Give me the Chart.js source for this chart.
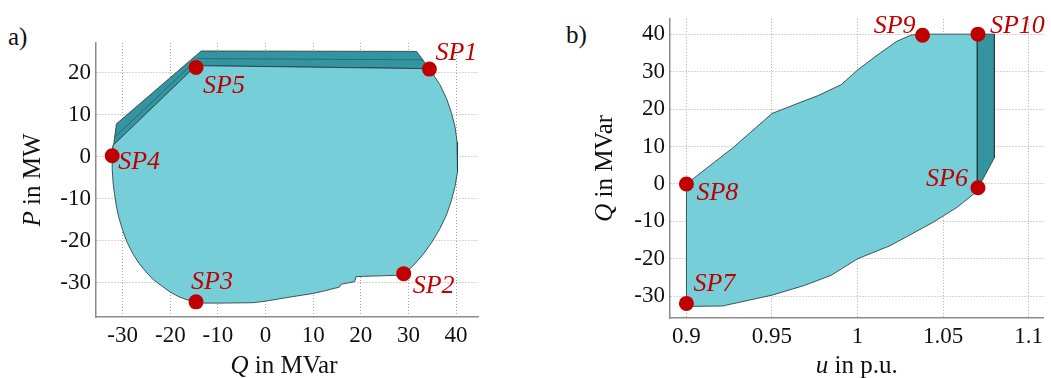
<!DOCTYPE html>
<html>
<head>
<meta charset="utf-8">
<script src="https://cdn.jsdelivr.net/npm/chart.js@4"></script>
<style>
  body { margin: 0; background: #fff; width: 1051px; height: 378px; overflow: hidden; position: relative; }
  .box { position: absolute; top: 0; height: 378px; }
  .tag { position: absolute; font-family: "Liberation Serif", serif; font-size: 25px; color: #111; }
</style>
</head>
<body>
<div class="tag" style="left:8px; top:23px;">a)</div>
<div class="tag" style="left:566px; top:21px;">b)</div>
<div class="box" style="left:0; width:490px;"><canvas id="leftchart"></canvas></div>
<div class="box" style="left:560px; width:491px;"><canvas id="rightchart"></canvas></div>
<script>
// ---- a) P-Q area ----
const leftAreaQ = [-32.2, -32.0, -14.8, -13.5, 34.4, 36.6, 38.0, 39.0, 39.8, 40.2, 40.4, 40.2, 39.8, 39.0, 38.0, 36.6, 35.0,
    33.1, 30.9, 29.1, 27.5, 19.0, 18.7, 15.9, 15.5, 12.0, 10.0, 4.4, 0.2, -2.6, -9.6, -13.0, -14.6, -16.5, -18.2, -20.0,
    -21.6, -23.5, -25.1, -26.6, -27.9, -29.1, -30.0, -30.8, -31.3, -31.7, -32.0, -32.2, -32.2];
const leftAreaP = [0.2, 2.7, 21.4, 21.6, 20.9, 17.1, 13.8, 10.5, 7.0, 3.5, 0.0, -3.5, -7.0, -10.5, -13.8, -17.1, -20.2,
    -23.2, -26.0, -27.9, -28.2, -28.5, -29.7, -30.3, -31.0, -32.0, -32.5, -33.5, -34.3, -34.7, -34.8, -34.8, -34.5, -34.0, -33.3, -32.2,
    -30.9, -29.3, -27.4, -25.3, -23.0, -20.3, -17.5, -14.5, -11.9, -9.0, -6.4, -3.0, 0.2];

const leftBandQ = [-32.2, -31.3, -13.5, 31.7, 34.4, -13.5, -14.8, -32.0, -32.2];
const leftBandP = [0.2, 7.8, 25.1, 25.0, 20.9, 21.6, 21.4, 2.7, 0.2];
const leftBandMidQ = [-31.8, -14.2, 33.0];
const leftBandMidP = [4.5, 23.3, 23.0];

const leftSpNames = ['SP1', 'SP2', 'SP3', 'SP4', 'SP5'];
const leftSpQ = [34.4, 29.0, -14.6, -32.2, -14.6];
const leftSpP = [20.8, -27.8, -34.5, 0.2, 21.2];

const leftQTicks = [-30, -20, -10, 0, 10, 20, 30, 40];
const leftPTicks = [-30, -20, -10, 0, 10, 20];

// ---- b) u-Q area ----
const rightAreaU = [0.9, 0.927, 0.95, 0.9655, 0.977, 0.9904, 1.0, 1.0115, 1.023, 1.031, 1.035, 1.07, 1.07, 1.058, 1.044,
    1.019, 1.0, 0.9846, 0.969, 0.95, 0.921, 0.9, 0.9];
const rightAreaQ = [0.0, 9.6, 18.8, 21.6, 23.6, 26.5, 30.4, 34.4, 38.1, 39.7, 40.0, 40.0, -1.9, -6.3, -10.3,
    -16.5, -20.0, -24.4, -27.1, -29.7, -32.6, -32.7, 0.0];

const rightBandU = [1.07, 1.08, 1.08, 1.07, 1.07];
const rightBandQ = [40.0, 40.0, 7.0, -1.5, 40.0];

const rightSpNames = ['SP6', 'SP7', 'SP8', 'SP9', 'SP10'];
const rightSpU = [1.0704, 0.9, 0.9, 1.038, 1.0704];
const rightSpQ = [-1.0, -31.9, 0.0, 39.7, 40.0];

const rightUTicks = [0.9, 0.95, 1, 1.05, 1.1];
const rightQTicks = [-30, -20, -10, 0, 10, 20, 30, 40];

const serif = '"Liberation Serif", "Times New Roman", serif';
const lightFill = 'rgb(118, 206, 216)';
const darkFill = 'rgb(52, 148, 160)';
const edge = 'rgba(40, 60, 62, 0.85)';
const red = '#c00000';

function pts(xs, ys) {
    return xs.map((x, i) => ({ x: x, y: ys[i] }));
}

// point labels for SP markers, placed from the library's own element positions
const spLabels = {
    id: 'spLabels',
    afterDatasetsDraw(chart, args, opts) {
        const meta = chart.getDatasetMeta(opts.dataset);
        const ctx = chart.ctx;
        ctx.save();
        ctx.font = 'italic 26px ' + serif;
        ctx.fillStyle = red;
        ctx.textBaseline = 'alphabetic';
        meta.data.forEach((el, i) => {
            const name = opts.names[i];
            const off = opts.offsets[name];
            ctx.textAlign = off[2] || 'left';
            ctx.fillText(name, el.x + off[0], el.y + off[1]);
        });
        ctx.restore();
    }
};

// axis titles with an italic symbol + normal text
const richTitles = {
    id: 'richTitles',
    afterDraw(chart, args, opts) {
        const ctx = chart.ctx;
        const area = chart.chartArea;
        ctx.save();
        ctx.fillStyle = '#111';
        ctx.textBaseline = 'middle';
        ctx.textAlign = 'left';
        function draw(sym, rest) {
            ctx.font = 'italic 25px ' + serif;
            const w1 = ctx.measureText(sym).width;
            ctx.font = '25px ' + serif;
            const w2 = ctx.measureText(rest).width;
            const start = -(w1 + w2) / 2;
            ctx.font = 'italic 25px ' + serif;
            ctx.fillText(sym, start, 0);
            ctx.font = '25px ' + serif;
            ctx.fillText(rest, start + w1, 0);
        }
        // x title
        ctx.save();
        ctx.translate((area.left + area.right) / 2 + opts.xShift, opts.xTitleY);
        draw(opts.x[0], opts.x[1]);
        ctx.restore();
        // y title
        ctx.save();
        ctx.translate(opts.yTitleX, (area.top + area.bottom) / 2 + opts.yShift);
        ctx.rotate(-Math.PI / 2);
        draw(opts.y[0], opts.y[1]);
        ctx.restore();
        ctx.restore();
    }
};

function axis(min, max, tickList, fitKey, fitSize) {
    return {
        type: 'linear',
        min: min,
        max: max,
        afterBuildTicks: (s) => { s.ticks = tickList.map(v => ({ value: v })); },
        afterFit: (s) => { s[fitKey] = fitSize; },
        // in v4 border.dash is the dash of the grid lines
        border: { display: true, color: '#8c8c8c', width: 1.5, dash: [1, 2] },
        grid: { color: '#a8a8a8', lineWidth: 1, drawTicks: false },
        ticks: {
            color: '#111',
            padding: 5,
            font: { family: serif, size: 23 },
            callback: (v) => String(+Number(v).toFixed(3))
        }
    };
}

function areaSet(data, fill, order) {
    return {
        type: 'scatter',
        data: data,
        showLine: true,
        fill: 'shape',
        backgroundColor: fill,
        borderColor: edge,
        borderWidth: 1,
        pointRadius: 0,
        tension: 0,
        order: order
    };
}

function markerSet(data) {
    return {
        type: 'scatter',
        data: data,
        pointRadius: 7.5,
        pointBackgroundColor: red,
        pointBorderColor: red,
        pointBorderWidth: 0,
        clip: false,
        order: 0
    };
}

const leftChart = new Chart(document.getElementById('leftchart'), {
    type: 'scatter',
    data: {
        datasets: [
            markerSet(pts(leftSpQ, leftSpP)),
            areaSet(pts(leftAreaQ, leftAreaP), lightFill, 1),
            {
                type: 'scatter', data: pts(leftBandMidQ, leftBandMidP), showLine: true,
                borderColor: 'rgba(30, 100, 110, 0.8)', borderWidth: 1, pointRadius: 0, order: 2
            },
            areaSet(pts(leftBandQ, leftBandP), darkFill, 3)
        ]
    },
    options: {
        responsive: true,
        maintainAspectRatio: false,
        animation: false,
        layout: { padding: { top: 43, right: 12, left: 0, bottom: 0 } },
        scales: {
            x: axis(-35.6, 44.6, leftQTicks, 'height', 61),
            y: axis(-38.1, 27.0, leftPTicks, 'width', 96)
        },
        plugins: {
            legend: { display: false },
            tooltip: { enabled: false },
            spLabels: {
                dataset: 0,
                names: leftSpNames,
                offsets: {
                    SP1: [6, -9], SP2: [9, 19], SP3: [-5, -13], SP4: [6, 13], SP5: [7, 26]
                }
            },
            richTitles: { x: ['Q', ' in MVar'], y: ['P', ' in MW'], xTitleY: 366, xShift: -3, yTitleX: 33, yShift: 0 }
        }
    },
    plugins: [spLabels, richTitles]
});

const rightChart = new Chart(document.getElementById('rightchart'), {
    type: 'scatter',
    data: {
        datasets: [
            markerSet(pts(rightSpU, rightSpQ)),
            areaSet(pts(rightAreaU, rightAreaQ), lightFill, 1),
            areaSet(pts(rightBandU, rightBandQ), darkFill, 2)
        ]
    },
    options: {
        responsive: true,
        maintainAspectRatio: false,
        animation: false,
        layout: { padding: { top: 17, right: 3, left: 0, bottom: 0 } },
        scales: {
            x: axis(0.8904, 1.1087, rightUTicks, 'height', 60),
            y: axis(-35.8, 44.1, rightQTicks, 'width', 110)
        },
        plugins: {
            legend: { display: false },
            tooltip: { enabled: false },
            spLabels: {
                dataset: 0,
                names: rightSpNames,
                offsets: {
                    SP6: [-10, -2, 'right'], SP7: [7, -12], SP8: [10, 16], SP9: [-7, -2, 'right'], SP10: [12, -1]
                }
            },
            richTitles: { x: ['u', ' in p.u.'], y: ['Q', ' in MVar'], xTitleY: 366, xShift: 0, yTitleX: 45, yShift: 0 }
        }
    },
    plugins: [spLabels, richTitles]
});
</script>
</body>
</html>
